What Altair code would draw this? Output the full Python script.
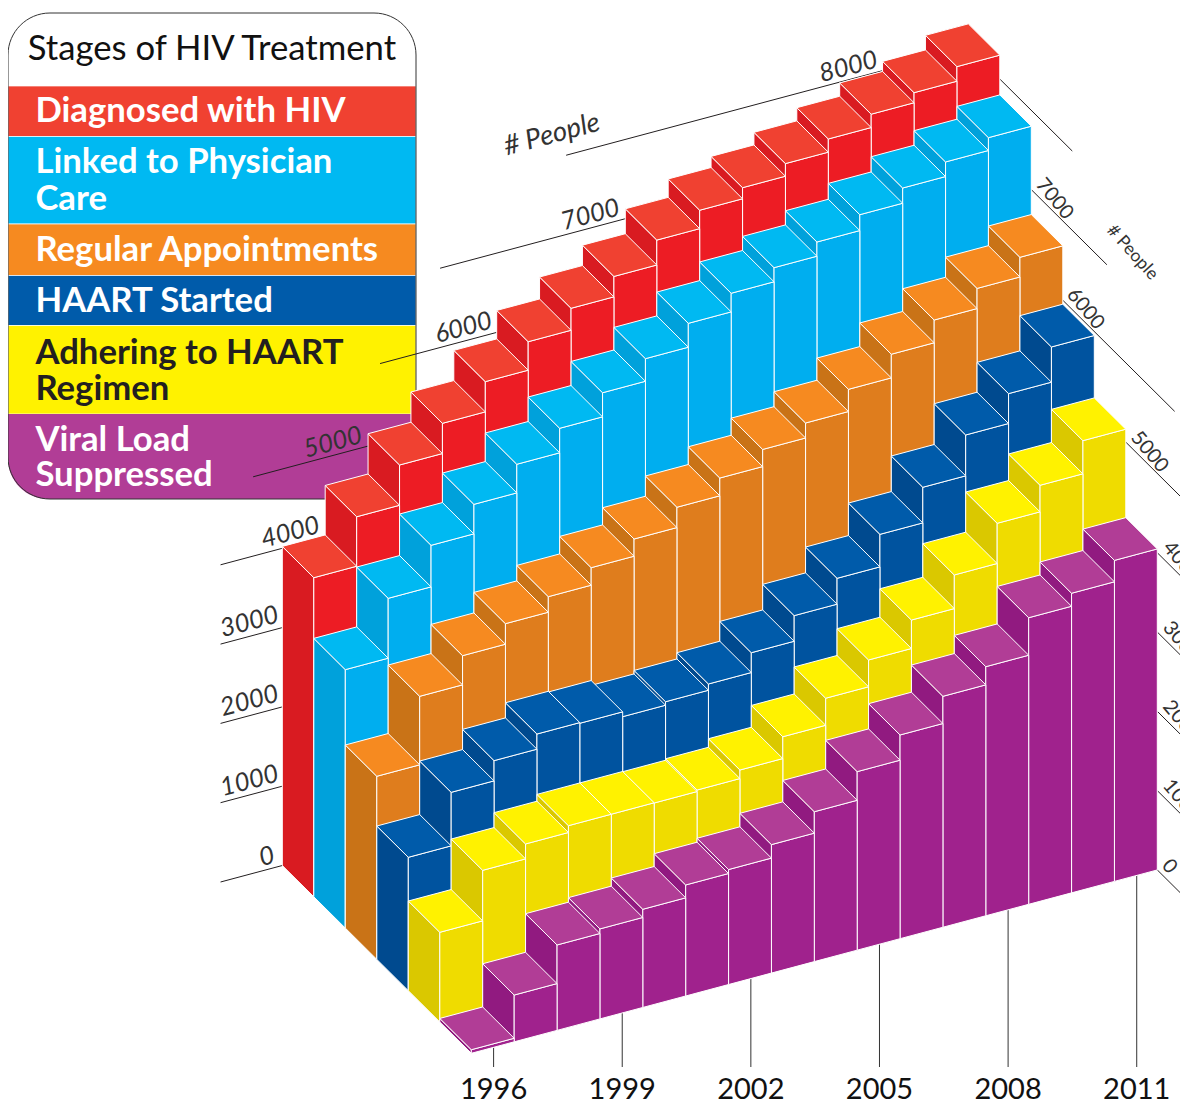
import altair as alt

YEARS = list(range(1996, 2012))
SERIES = ["Viral Load Suppressed", "Adhering to HAART Regimen", "HAART Started",
          "Regular Appointments", "Linked to Physician Care", "Diagnosed with HIV"]
VIRAL = [45, 590, 1077, 1135, 1238, 1400, 1450, 1620, 1890, 2251, 2569, 2912, 3141, 3614, 3778, 4048]
ADHERE = [1131, 1768, 1956, 2042, 2042, 2039, 2058, 2166, 2441, 2782, 3120, 3479, 3903, 4410, 4745, 5163]
HAART = [1682, 2357, 2612, 2803, 2794, 2733, 2777, 2856, 3106, 3429, 3755, 4165, 4614, 5129, 5506, 5950]
REGULAR = [2309, 3173, 3541, 3800, 3996, 4217, 4434, 4690, 4914, 5130, 5319, 5599, 5897, 6184, 6438, 6686]
LINKED = [3259, 4014, 4538, 4910, 5271, 5580, 5884, 6169, 6470, 6705, 6883, 7062, 7262, 7454, 7638, 7800]
DIAGNOSED = [4024, 4648, 5156, 5537, 5918, 6277, 6554, 6811, 7125, 7357, 7497, 7656, 7822, 7990, 8117, 8301]
VALUES = [VIRAL, ADHERE, HAART, REGULAR, LINKED, DIAGNOSED]

# (front, top, left) shades for each series, front row first
SHADES = [("#A0228D", "#B13D96", "#911A80"),
          ("#EFDC00", "#FFF200", "#DAC800"),
          ("#00539F", "#005BAA", "#004A8F"),
          ("#DF7D1D", "#F68A20", "#C97317"),
          ("#00AEEF", "#00B9F2", "#00A1DB"),
          ("#ED1C24", "#F04131", "#D91B21")]


# isometric projection: bar index, row index (depth), people count -> page position
def iso(i, d, v):
    return [471.3 + 42.875 * i - 31.5 * d, 1053.3 - 11.46 * i - 31.3 * d - 0.0793 * v]


def poly(pts, fill):
    return {"type": "Feature", "properties": {"fill": fill},
            "geometry": {"type": "Polygon", "coordinates": [pts + [pts[0]]]}}


def seg(a, b):
    return {"type": "Feature", "properties": {},
            "geometry": {"type": "LineString", "coordinates": [a, b]}}


faces = []
for d in range(5, -1, -1):
    front, top, left = SHADES[d]
    for i in range(15, -1, -1):
        v = VALUES[d][i]
        faces.append(poly([iso(i, d, 0), iso(i, d + 1, 0), iso(i, d + 1, v), iso(i, d, v)], left))
        faces.append(poly([iso(i, d, 0), iso(i + 1, d, 0), iso(i + 1, d, v), iso(i, d, v)], front))
        faces.append(poly([iso(i, d, v), iso(i + 1, d, v), iso(i + 1, d + 1, v), iso(i, d + 1, v)], top))

lines = []
# left-hand gridlines on the back plane: value, start bar, end bar
for v, a, b in [(0, -1.44, 0), (1000, -1.44, 0), (2000, -1.44, 0), (3000, -1.44, 0), (4000, -1.44, 0),
                (5000, -0.68, 2.06), (6000, 2.28, 5.05), (7000, 3.68, 8.1), (8000, 6.62, 14.2)]:
    lines.append(seg(iso(a, 6, v), iso(b, 6, v)))
# right-hand gridlines: value, row, reach in rows
for v, d, r in [(0, 0, 3), (1000, 0, 3), (2000, 0, 3), (3000, 0, 3), (4000, 0, 3),
                (5000, 1, 3.5), (6000, 3, 3.55), (7000, 4, 2.4), (8000, 5, 2.3)]:
    lines.append(seg(iso(16, d, v), iso(16, d - r, v)))
TICK_YEARS = [1996, 1999, 2002, 2005, 2008, 2011]
ticks = []
for yr in TICK_YEARS:
    k = yr - 1996 + 0.52
    ticks.append(seg(iso(k, 0, 0), [iso(k, 0, 0)[0], 1067]))

PROJ = alt.Projection(type="identity", scale=1, translate=[-8, -8])
X = alt.X("x:Q", scale=None, axis=None)
Y = alt.Y("y:Q", scale=None, axis=None)


def text_layer(rows, **mark):
    data = [{"x": r[0] - 8, "y": r[1] - 8, "t": r[2]} for r in rows]
    return alt.Chart(alt.Data(values=data)).mark_text(font="Lato", baseline="alphabetic", **mark).encode(
        x=X, y=Y, text="t:N")


def rect_layer(rows, **mark):
    data = [{"x": 8 - 8, "x2": 416 - 8, "y": r[0] - 8, "y2": r[1] - 8, "c": r[2]} for r in rows]
    return alt.Chart(alt.Data(values=data)).mark_rect(**mark).encode(
        x=X, x2="x2:Q", y=Y, y2="y2:Q", fill=alt.Fill("c:N", scale=None))


legend = [
    rect_layer([(13, 86, "#FFFFFF")], cornerRadiusTopLeft=44, cornerRadiusTopRight=44),
    rect_layer([(86, 136.5, SHADES[5][1]), (136.5, 224, SHADES[4][1]), (224, 275.5, SHADES[3][1]),
                (275.5, 325.5, SHADES[2][1]), (325.5, 414, SHADES[1][1])],
               stroke="#FFFFFF", strokeWidth=0.7),
    rect_layer([(414, 499, SHADES[0][1])], cornerRadiusBottomLeft=40, cornerRadiusBottomRight=40),
]
outline = alt.Chart(alt.Data(values=[{"x": 0, "x2": 408, "y": 5, "y2": 491}])).mark_rect(
    fill=None, stroke="#333333", strokeWidth=1, cornerRadius=42).encode(x=X, x2="x2:Q", y=Y, y2="y2:Q")

legend_text = [
    text_layer([(27.7, 59.5, "Stages of HIV Treatment")], fontSize=34.7, fill="#111111", align="left"),
    text_layer([(35.4, 121.7, "Diagnosed with HIV"), (35.4, 172.7, "Linked to Physician"), (35.4, 209.5, "Care"),
                (35.4, 260.7, "Regular Appointments"), (35.4, 311.7, "HAART Started"),
                (35.4, 451.3, "Viral Load"), (35.4, 486, "Suppressed")],
               fontSize=34.7, fontWeight="bold", fill="#FFFFFF", align="left"),
    text_layer([(35.4, 363.7, "Adhering to HAART"), (35.4, 400.3, "Regimen")],
               fontSize=34.7, fontWeight="bold", fill="#231F20", align="left"),
]

line_layer = alt.Chart(alt.Data(values=lines)).mark_geoshape(
    filled=False, stroke="#231F20", strokeWidth=1).project(**PROJ.to_dict())
tick_layer = alt.Chart(alt.Data(values=ticks)).mark_geoshape(
    filled=False, stroke="#333333", strokeWidth=1).project(**PROJ.to_dict())
bars = alt.Chart(alt.Data(values=faces)).mark_geoshape(
    stroke="#FFFFFF", strokeWidth=1, strokeJoin="round").encode(
    fill=alt.Fill("properties.fill:N", scale=None)).project(**PROJ.to_dict())

left_labels = text_layer(
    [(276, 862.5, "0"), (280, 781, "1000"), (280, 701, "2000"), (280, 622, "3000"), (321, 532.5, "4000"),
     (363.5, 442.5, "5000"), (493.5, 328, "6000"), (621, 215, "7000"), (879, 67, "8000")],
    fontSize=25.5, fontStyle="italic", fill="#333333", align="right", angle=345)
top_people = text_layer([(506.5, 155.5, "# People")], fontSize=27.5, fontStyle="italic", fill="#333333",
                        align="left", angle=345)
right_labels = text_layer(
    [(1161, 866, "0"), (1162, 786, "1000"), (1162, 707, "2000"), (1162, 628, "3000"), (1162, 548, "4000"),
     (1130, 438, "5000"), (1066, 295, "6000"), (1035, 185, "7000")],
    fontSize=20, fill="#333333", align="left", angle=50)
right_people = text_layer([(1106, 231, "# People")], fontSize=17.5, fill="#333333", align="left", angle=48)
year_labels = text_layer([(iso(yr - 1996 + 0.52, 0, 0)[0], 1099, str(yr)) for yr in TICK_YEARS],
                         fontSize=29, fill="#111111", align="center")

chart = alt.layer(
    *legend, outline, *legend_text, line_layer, tick_layer, bars,
    left_labels, top_people, right_labels, right_people, year_labels
).properties(width=1172, height=1093, padding=0, autosize=alt.AutoSizeParams(type="none"),
             usermeta={"embedOptions": {"defaultStyle": "svg{overflow:visible !important}"}}
).configure_view(stroke=None)

chart.save("out.html", embed_options={"renderer": "svg", "actions": False})
